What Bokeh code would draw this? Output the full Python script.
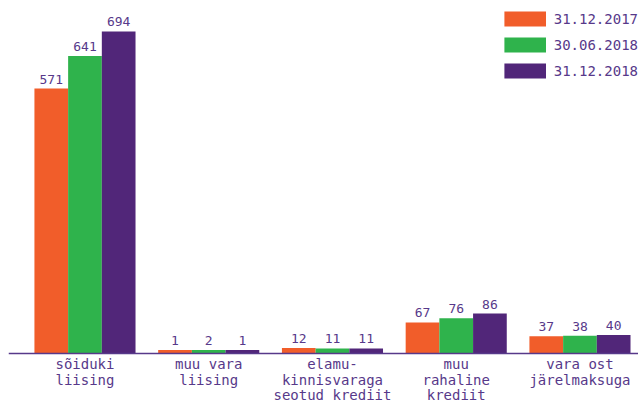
import numpy as np
from bokeh.plotting import figure
from bokeh.models import ColumnDataSource, Range1d, Legend, LegendItem, LabelSet, Span
from bokeh.transform import dodge
from bokeh.core.properties import value
from bokeh.embed import file_html
from bokeh.resources import INLINE

categories = ["sõiduki\nliising", "muu vara\nliising", "elamu-\nkinnisvaraga\nseotud krediit",
              "muu\nrahaline\nkrediit", "vara ost\njärelmaksuga"]
series_names = ["31.12.2017", "30.06.2018", "31.12.2018"]
v_2017 = [571, 1, 12, 67, 37]
v_2018h = [641, 2, 11, 76, 38]
v_2018 = [694, 1, 11, 86, 40]
series_values = [v_2017, v_2018h, v_2018]
colors = ["#F15D2A", "#2FB34C", "#512679"]
text_color = "#57398A"
font = "DejaVu Sans Mono"

x_idx = list(range(len(categories)))

# frame spans the whole height; the area below zero holds the category labels
p = figure(width=638, height=403, output_backend="svg", toolbar_location=None,
           x_range=Range1d(-0.618, 4.473), y_range=Range1d(-107.8, 741.4),
           min_border_left=8, min_border_right=0, min_border_top=9, min_border_bottom=0)
p.outline_line_color = None
p.xgrid.visible = False
p.ygrid.visible = False
p.yaxis.visible = False
p.xaxis.visible = False

bar_w = 0.2723
min_units = 7.5  # minimum visible bar height
offsets = [-bar_w, 0.0, bar_w]
items = []
for name, vals, col, off in zip(series_names, series_values, colors, offsets):
    vals = np.array(vals, dtype=float)
    src = ColumnDataSource(dict(x=x_idx, top=np.maximum(vals, min_units),
                                lab=[str(int(v)) for v in vals]))
    r = p.vbar(x=dodge("x", off, range=p.x_range), top="top", bottom=0, width=bar_w,
               source=src, fill_color=col, line_color=None)
    items.append(LegendItem(label=name, renderers=[r]))
    labels = LabelSet(x=dodge("x", off, range=p.x_range), y="top", text="lab", source=src,
                      text_align="center", text_baseline="alphabetic", y_offset=5,
                      text_font=value(font), text_font_size="13px", text_color=text_color)
    p.add_layout(labels)

# baseline (category axis line)
p.add_layout(Span(location=0, dimension="width", line_color=text_color, line_width=1.5))

# category labels under the axis line, one centred label per text line
lx, ly, lt, lo = [], [], [], []
for i, cat in zip(x_idx, categories):
    for k, line in enumerate(cat.split("\n")):
        lx.append(i)
        ly.append(0)
        lt.append(line)
        lo.append(-(16 + 15.5 * k))
cat_src = ColumnDataSource(dict(x=lx, y=ly, lab=lt, yo=lo))
cat_labels = LabelSet(x="x", y="y", text="lab", source=cat_src, y_offset="yo",
                      text_align="center", text_baseline="alphabetic",
                      text_font=value(font), text_font_size="14px", text_color=text_color)
p.add_layout(cat_labels)

legend = Legend(items=items, location="top_right", margin=0, padding=0,
                glyph_width=52, glyph_height=19, label_standoff=3, spacing=7,
                label_text_font=font, label_text_font_size="14px",
                label_text_color=text_color, border_line_color=None,
                background_fill_alpha=0)
p.add_layout(legend)

open("out.html", "w").write(file_html(p, INLINE))
